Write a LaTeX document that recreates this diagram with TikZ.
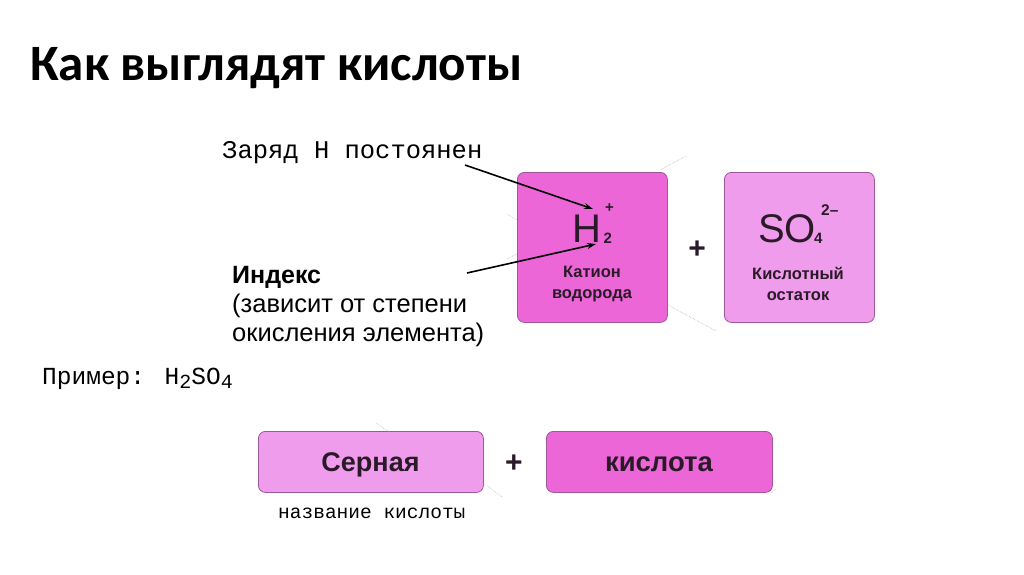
\documentclass[tikz,border=0pt]{standalone}
\usepackage{fontspec}
\setmainfont{Liberation Sans}
\newfontfamily\titlefont{Carlito}
\newfontfamily\monofont{Liberation Mono}
\usetikzlibrary{arrows.meta}
\definecolor{magA}{HTML}{EC66D8}
\definecolor{magB}{HTML}{F09CEC}
\definecolor{edgeC}{HTML}{A0569A}
\definecolor{txtC}{HTML}{2A1A28}
\tikzset{
  card/.style={draw=edgeC, line width=0.8pt, rounded corners=7pt, inner sep=0pt, anchor=north west},
  lbl/.style={inner sep=0pt, anchor=base west},
  ptr/.style={line width=1.6pt, -{Stealth[length=9pt,width=6pt]}},
  faint/.style={gray!70, line width=0.5pt, densely dotted},
  plus/.style={inner sep=0pt, font=\bfseries\fontsize{30}{30}\selectfont, text=txtC}
}
\begin{document}
\begin{tikzpicture}[x=1pt,y=-1pt]
\useasboundingbox[fill=white] (0,0) rectangle (1024,574);
% title
\node[lbl] (title) at (30,80) {\titlefont\bfseries\fontsize{51}{51}\selectfont Как выглядят кислоты};
% top cards
\node[card, fill=magA, minimum width=150pt, minimum height=150pt] (cat) at (517,172) {};
\node[card, fill=magB, minimum width=150pt, minimum height=150pt] (an) at (724,172) {};
\node[plus] (p1) at (697,250) {+};
% H2+
\node[inner sep=0pt, anchor=base, text=txtC, font=\fontsize{40}{40}\selectfont] (H) at (587,242) {H};
\node[inner sep=0pt, anchor=base west, text=txtC, font=\bfseries\fontsize{15}{15}\selectfont] (Hsub) at (603.5,243) {2};
\node[inner sep=0pt, anchor=base west, text=txtC, font=\bfseries\fontsize{15}{15}\selectfont] (Hsup) at (605,212) {+};
\node[inner sep=0pt, align=center, text=txtC, font=\bfseries\fontsize{16.5}{21}\selectfont] (catlbl) at (592,284) {Катион\\водорода};
% SO4 2-
\node[inner sep=0pt, anchor=base, text=txtC, font=\fontsize{40}{40}\selectfont] (SO) at (787,242) {SO};
\node[inner sep=0pt, anchor=base west, text=txtC, font=\bfseries\fontsize{15}{15}\selectfont] (SOsub) at (814,243) {4};
\node[inner sep=0pt, anchor=base west, text=txtC, font=\bfseries\fontsize{15.5}{15.5}\selectfont] (SOsup) at (821,215) {2–};
\node[inner sep=0pt, align=center, text=txtC, font=\bfseries\fontsize{16.5}{21}\selectfont] (anlbl) at (798,284) {Кислотный\\остаток};
% annotations
\node[lbl, font=\monofont\fontsize{25.5}{25.5}\selectfont] (charge) at (222,158) {Заряд Н постоянен};
\node[lbl, font=\bfseries\fontsize{25}{25}\selectfont] (idx) at (232,283) {Индекс};
\node[lbl, font=\fontsize{25.5}{25.5}\selectfont] (idx2) at (232,312) {(зависит от степени};
\node[lbl, font=\fontsize{25.5}{25.5}\selectfont] (idx3) at (232,341) {окисления элемента)};
\coordinate (c1) at (465,165);
\coordinate (c2) at (467,273);
\coordinate (h1) at (593,209);
\coordinate (h2) at (596,244);
\draw[ptr] (c1) -- (h1);
\draw[ptr] (c2) -- (h2);
% example
\node[lbl, font=\monofont\fontsize{24.5}{24.5}\selectfont] (ex) at (42,384) {Пример: H\raisebox{-4pt}{\fontsize{20}{20}\selectfont 2}SO\raisebox{-4pt}{\fontsize{20}{20}\selectfont 4}};
% bottom cards
\node[card, fill=magB, minimum width=225pt, minimum height=61pt] (c3) at (258,431) {};
\node[card, fill=magA, minimum width=226pt, minimum height=61pt] (c4) at (546,431) {};
\node[inner sep=0pt, anchor=base, text=txtC, font=\bfseries\fontsize{27}{27}\selectfont] (t3) at (370.5,471) {Серная};
\node[inner sep=0pt, anchor=base, text=txtC, font=\bfseries\fontsize{27.5}{27.5}\selectfont] (t4) at (659,471) {кислота};
\node[plus] (p2) at (514,464) {+};
\node[lbl, font=\monofont\fontsize{19.5}{19.5}\selectfont] (name) at (278,518) {название кислоты};
% faint artifacts
\draw[faint] (660,170) -- (686,156);
\draw[faint] (507,214) -- (517,220);
\draw[faint] (507,259) -- (517,254);
\draw[faint] (668,305) -- (716,331);
\draw[faint] (376,423) -- (389,432);
\draw[faint] (482,482) -- (502,497);
\draw[faint] (770,493) -- (776,489);
\end{tikzpicture}
\end{document}
